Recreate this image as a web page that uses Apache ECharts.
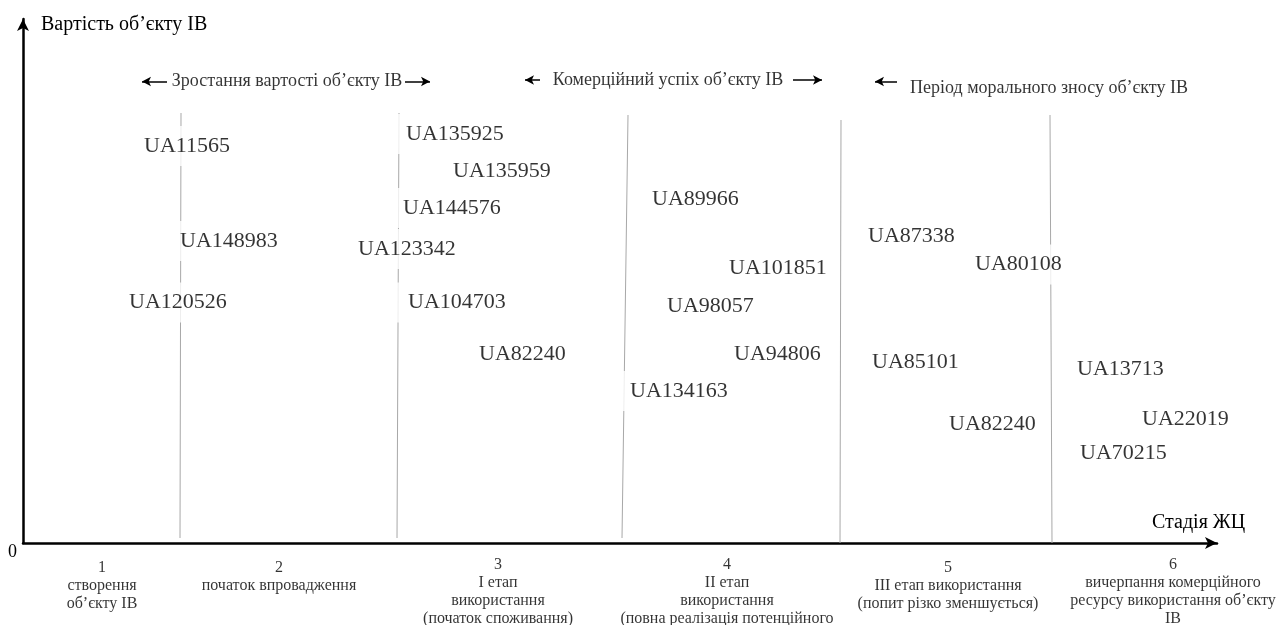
<!DOCTYPE html>
<html><head><meta charset="utf-8">
<script src="https://cdn.jsdelivr.net/npm/echarts@6/dist/echarts.min.js"></script>
<style>html,body{margin:0;padding:0;background:#fff}#c{width:1281px;height:625px}</style>
</head><body><div id="c"></div>
<script>
const FONT = "'Liberation Serif','Times New Roman',serif";

// Patent labels placed along the life-cycle stage axis (x) and value axis (y)
const patentNames = ['UA11565','UA148983','UA120526',
  'UA135925','UA135959','UA144576','UA123342','UA104703','UA82240',
  'UA89966','UA101851','UA98057','UA94806','UA134163',
  'UA87338','UA80108','UA85101','UA82240',
  'UA13713','UA22019','UA70215'];
const patentX = [12.1, 15.7, 10.6,
  38.3, 43.0, 38.0, 33.5, 38.5, 45.6,
  62.9, 70.6, 64.4, 71.1, 60.7,
  84.5, 95.2, 84.9, 92.6,
  105.4, 111.9, 105.7];
const patentY = [79.4, 60.4, 48.1,
  81.8, 74.4, 67.0, 58.8, 48.1, 37.8,
  68.8, 55.0, 47.4, 37.7, 30.4,
  61.4, 55.7, 36.2, 23.8,
  34.8, 24.8, 18.0];

// Stage separator lines (top x, bottom x, top y, bottom y)
const sepTopX = [15.8, 37.6, 60.5, 81.8, 102.7];
const sepBottomX = [15.7, 37.4, 59.9, 81.7, 102.9];
const sepTopY = [86, 86, 85.6, 84.6, 85.6];
const sepBottomY = [1, 1, 1, 0, 0];

// Stage captions under the axis
const stageNames = [
  '1\nстворення\nоб’єкту ІВ',
  '2\nпочаток впровадження',
  '3\nІ етап\nвикористання\n(початок споживання)',
  '4\nІІ етап\nвикористання\n(повна реалізація потенційного',
  '5\nІІІ етап використання\n(попит різко зменшується)',
  '6\nвичерпання комерційного\nресурсу використання об’єкту\nІВ'
];
const stageX = [7.9, 25.6, 47.5, 70.4, 92.5, 115.0];
const stageY = [-3.1, -3.1, -2.6, -2.6, -3.1, -2.6];

// Phase annotations at the top
const phaseNames = ['Зростання вартості об’єкту ІВ', 'Комерційний успіх об’єкту ІВ', 'Період морального зносу об’єкту ІВ'];
const phaseX = [26.4, 64.5, 102.6];
const phaseY = [92.3, 92.6, 91.0];
const arrowTail = [14.4, 38.2, 51.7, 77.0, 87.4];
const arrowHead = [11.9, 40.7, 50.2, 79.9, 85.2];
const arrowY = [92.3, 92.3, 92.6, 92.6, 92.3];

const chart = echarts.init(document.getElementById('c'));
chart.setOption({
  animation: false,
  backgroundColor: '#fff',
  title: [
    {text: 'Вартість об’єкту ІВ', left: 41, top: 15, padding: 0,
     textStyle: {fontFamily: FONT, fontSize: 20, fontWeight: 'normal', color: '#000', lineHeight: 20}},
    {text: 'Стадія ЖЦ', left: 1152, top: 513, padding: 0,
     textStyle: {fontFamily: FONT, fontSize: 20, fontWeight: 'normal', color: '#000', lineHeight: 20}}
  ],
  grid: {left: 23, right: 64, top: 19, bottom: 82, containLabel: false},
  xAxis: {
    type: 'value', min: 0, max: 119.4,
    axisLine: {show: true, lineStyle: {color: '#000', width: 2.5}, symbol: ['none', 'arrow'], symbolSize: [9, 12]},
    axisTick: {show: false}, axisLabel: {show: false}, splitLine: {show: false}
  },
  yAxis: {
    type: 'value', min: 0, max: 104.8, interval: 52.4,
    axisLine: {show: true, lineStyle: {color: '#000', width: 2.5}, symbol: ['none', 'arrow'], symbolSize: [9, 12]},
    axisTick: {show: false}, splitLine: {show: false},
    axisLabel: {show: true, formatter: v => v === 0 ? '0' : '', margin: 6, verticalAlign: 'top',
      fontFamily: FONT, fontSize: 18, color: '#000'}
  },
  series: [
    {
      type: 'lines', coordinateSystem: 'cartesian2d', z: 1, silent: true,
      lineStyle: {color: '#a8a8a8', width: 1, opacity: 1},
      data: sepTopX.map((x, i) => ({coords: [[x, sepTopY[i]], [sepBottomX[i], sepBottomY[i]]]}))
    },
    {
      type: 'scatter', symbolSize: 0, z: 5, silent: true,
      data: patentNames.map((n, i) => ({name: n, value: [patentX[i], patentY[i]]})),
      label: {show: true, formatter: '{b}', position: 'right', distance: 0, offset: [-12, 0],
        fontFamily: FONT, fontSize: 22, lineHeight: 24, color: '#000', textBorderWidth: 0,
        backgroundColor: '#fff', padding: [8, 6, 8, 12]}
    },
    {
      type: 'scatter', symbolSize: 0, z: 5, silent: true, clip: false,
      data: stageNames.map((n, i) => ({name: n, value: [stageX[i], stageY[i]]})),
      label: {show: true, formatter: '{b}', position: 'bottom', distance: 0, align: 'center',
        fontFamily: FONT, fontSize: 16, lineHeight: 18, color: '#000', textBorderWidth: 0}
    },
    {
      type: 'scatter', symbolSize: 0, z: 5, silent: true,
      data: phaseNames.map((n, i) => ({name: n, value: [phaseX[i], phaseY[i]]})),
      label: {show: true, formatter: '{b}', position: 'inside',
        fontFamily: FONT, fontSize: 18, color: '#000', textBorderWidth: 0},
      markLine: {
        silent: true, symbol: ['none', 'arrow'], symbolSize: [7, 9],
        lineStyle: {color: '#000', width: 1.5, type: 'solid'},
        label: {show: false},
        data: arrowTail.map((t, i) => [{coord: [t, arrowY[i]]}, {coord: [arrowHead[i], arrowY[i]]}])
      }
    }
  ]
});
</script></body></html>
